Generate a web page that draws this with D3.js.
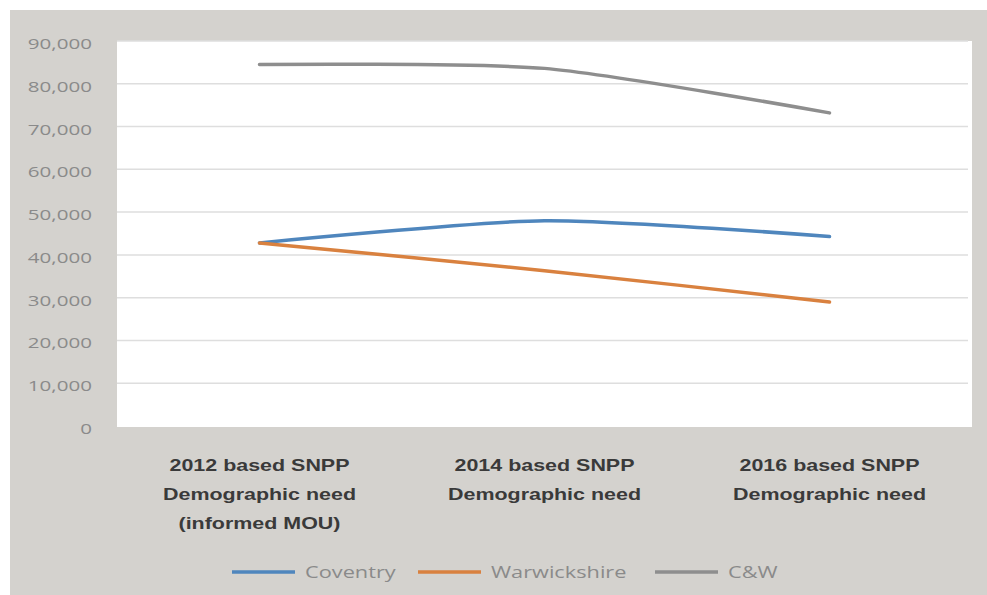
<!DOCTYPE html>
<html><head><meta charset="utf-8">
<script src="https://cdn.jsdelivr.net/npm/d3@7"></script>
<style>html,body{margin:0;padding:0;background:#fff;}svg{display:block;}</style>
</head><body>
<svg id="chart" width="987" height="595"></svg>
<script>
const categories = [
  ["2012 based SNPP","Demographic need","(informed MOU)"],
  ["2014 based SNPP","Demographic need"],
  ["2016 based SNPP","Demographic need"]
];
const seriesNames = ["Coventry","Warwickshire","C&W"];
const coventry = [42800, 48000, 44300];
const warwickshire = [42800, 36300, 29000];
const cw = [84500, 83600, 73200];
const yTicks = [0,10000,20000,30000,40000,50000,60000,70000,80000,90000];
const colors = ["#4f86bd","#d9813f","#8e8e8e"];

const svg = d3.select("#chart");
const W = 987, H = 595;
svg.append("rect").attr("x",10).attr("y",10).attr("width",W-10).attr("height",H-10).attr("fill","#d4d2ce");

const plot = {l:117, r:972, t:41, b:427};
svg.append("rect").attr("x",plot.l).attr("y",plot.t).attr("width",plot.r-plot.l).attr("height",plot.b-plot.t).attr("fill","#ffffff");

const x = d3.scaleBand().domain(d3.range(categories.length)).range([plot.l, plot.r]);
const y = d3.scaleLinear().domain([0,90000]).range([plot.b-1, plot.t]);
const fmt = d3.format(",");

// gridlines
svg.append("g").selectAll("line").data(yTicks.filter(d=>d>0)).join("line")
  .attr("x1",plot.l).attr("x2",plot.r-4)
  .attr("y1",d=>y(d)).attr("y2",d=>y(d))
  .attr("stroke","#dedede").attr("stroke-width",1.5);

// y labels
svg.append("g").selectAll("text").data(yTicks).join("text")
  .attr("transform",d=>`translate(92,${y(d)+8}) scale(1.42,1)`)
  .attr("text-anchor","end")
  .attr("font-family","'Open Sans', sans-serif").attr("font-size",14.5)
  .attr("fill","#8a8a8a")
  .text(d=>fmt(d));

// x labels
const xl = svg.append("g");
categories.forEach((lines,i)=>{
  lines.forEach((s,j)=>{
    xl.append("text")
      .attr("transform",`translate(${x(i)+x.bandwidth()/2},${471+j*29}) scale(1.3,1)`)
      .attr("text-anchor","middle")
      .attr("font-family","'Liberation Sans', Arial, sans-serif").attr("font-weight","bold")
      .attr("font-size",16.5).attr("fill","#3a3a3a")
      .text(s);
  });
});

// lines
const data = [coventry, warwickshire, cw];
const line = d3.line().x((d,i)=>x(i)+x.bandwidth()/2).y(d=>y(d)).curve(d3.curveCardinal.tension(0.3));
svg.append("g").selectAll("path").data(data).join("path")
  .attr("d",line).attr("fill","none")
  .attr("stroke",(d,i)=>colors[i]).attr("stroke-width",3.5).attr("stroke-linecap","round");

// legend
const legendItems = [
  {x1:232, x2:295, tx:305},
  {x1:418, x2:481, tx:491},
  {x1:655, x2:718, tx:728}
];
const lg = svg.append("g");
seriesNames.forEach((n,i)=>{
  const it = legendItems[i];
  lg.append("line").attr("x1",it.x1).attr("x2",it.x2).attr("y1",572).attr("y2",572)
    .attr("stroke",colors[i]).attr("stroke-width",3.5);
  lg.append("text").attr("transform",`translate(${it.tx},578) scale(1.36,1)`)
    .attr("font-family","'Open Sans', sans-serif").attr("font-size",16)
    .attr("fill","#8a8a8a").text(n);
});
</script>
</body></html>
